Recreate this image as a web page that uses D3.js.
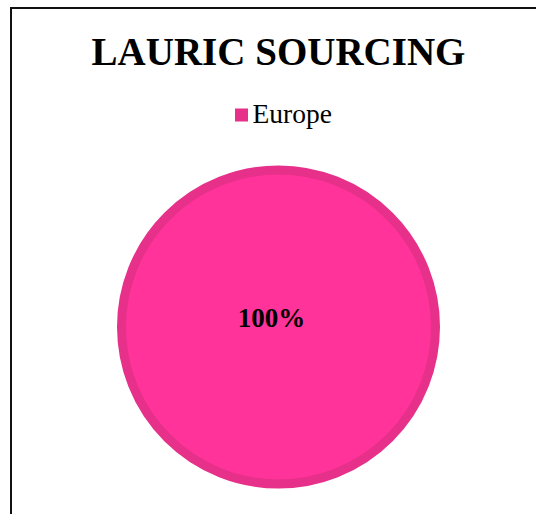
<!DOCTYPE html>
<html><head><meta charset="utf-8">
<script src="https://cdn.jsdelivr.net/npm/d3@7"></script>
<style>html,body{margin:0;padding:0;background:#fff;}svg{display:block;}</style>
</head><body>
<script>
const title = "LAURIC SOURCING";
const categories = ["Europe"];
const values = [100];
const labels = ["100%"];
const colors = ["#FF3399"];
const borderColors = ["#E6308A"];

const W = 536, H = 514;
const svg = d3.select("body").append("svg").attr("width", W).attr("height", H);
svg.append("rect").attr("width", W).attr("height", H).attr("fill", "#fff");

// frame (only top and left visible)
svg.append("path").attr("d", `M11,${H} L11,8 L${W},8`).attr("fill", "none")
  .attr("stroke", "#111").attr("stroke-width", 2);

svg.append("text").attr("x", 278.5).attr("y", 64.5).attr("text-anchor", "middle")
  .attr("font-family", "Liberation Serif, Times New Roman, serif").attr("font-weight", "bold")
  .attr("font-size", 39).attr("fill", "#000").text(title);

// legend
const leg = svg.append("g");
categories.forEach((c, i) => {
  leg.append("rect").attr("x", 235).attr("y", 108.5).attr("width", 13).attr("height", 13).attr("fill", borderColors[i]);
  leg.append("text").attr("x", 252.5).attr("y", 123).attr("font-family", "Liberation Serif, Times New Roman, serif")
    .attr("font-size", 27.5).attr("fill", "#000").text(c);
});

const cx = 278.5, cy = 327, r = 161.5;
const pie = d3.pie().sort(null)(values);
const arcIn = d3.arc().innerRadius(0).outerRadius(r - 4.5);
const g = svg.append("g").attr("transform", `translate(${cx},${cy})`);
g.selectAll("path.s").data(pie).join("path").attr("class", "s")
  .attr("d", arcIn).attr("fill", (d, i) => colors[i])
  .attr("stroke", (d, i) => borderColors[i]).attr("stroke-width", 9);

g.selectAll("text.l").data(pie).join("text").attr("class", "l")
  .attr("x", -7).attr("y", 0).attr("text-anchor", "middle")
  .attr("font-family", "Liberation Serif, Times New Roman, serif").attr("font-weight", "bold")
  .attr("font-size", 27).attr("fill", "#000").text((d, i) => labels[i]);
</script>
</body></html>
